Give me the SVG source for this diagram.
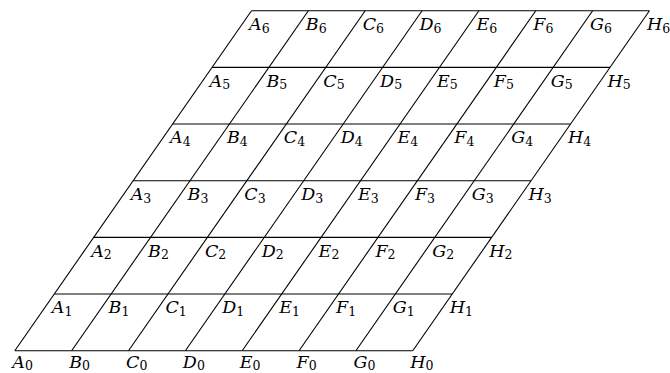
<svg xmlns="http://www.w3.org/2000/svg" width="670" height="373" viewBox="0 0 670 373">
<style>
.g line{stroke:#000;stroke-width:1.1;fill:none}
text{font-family:"DejaVu Serif","Liberation Serif",serif;font-style:italic;font-size:17.5px;fill:#000}
.s{font-style:normal;font-size:12.5px}
</style>
<rect width="670" height="373" fill="#fff"/>
<g id="connectors" class="g">
<line x1="14.8" y1="350.7" x2="412.75" y2="350.7"/>
<line x1="54.25" y1="294.03" x2="452.2" y2="294.03"/>
<line x1="93.7" y1="237.37" x2="491.65" y2="237.37"/>
<line x1="133.15" y1="180.7" x2="531.1" y2="180.7"/>
<line x1="172.6" y1="124.03" x2="570.55" y2="124.03"/>
<line x1="212.05" y1="67.37" x2="610" y2="67.37"/>
<line x1="251.5" y1="10.7" x2="649.45" y2="10.7"/>
<line x1="14.8" y1="350.7" x2="251.5" y2="10.7"/>
<line x1="71.65" y1="350.7" x2="308.35" y2="10.7"/>
<line x1="128.5" y1="350.7" x2="365.2" y2="10.7"/>
<line x1="185.35" y1="350.7" x2="422.05" y2="10.7"/>
<line x1="242.2" y1="350.7" x2="478.9" y2="10.7"/>
<line x1="299.05" y1="350.7" x2="535.75" y2="10.7"/>
<line x1="355.9" y1="350.7" x2="592.6" y2="10.7"/>
<line x1="412.75" y1="350.7" x2="649.45" y2="10.7"/>
</g>
<g id="labels">
<g id="A0"><text x="12.3" y="368.3">A<tspan class="s" dy="1.8">0</tspan></text></g>
<g id="B0"><text x="69.15" y="368.3">B<tspan class="s" dy="1.8">0</tspan></text></g>
<g id="C0"><text x="126" y="368.3">C<tspan class="s" dy="1.8">0</tspan></text></g>
<g id="D0"><text x="182.85" y="368.3">D<tspan class="s" dy="1.8">0</tspan></text></g>
<g id="E0"><text x="239.7" y="368.3">E<tspan class="s" dy="1.8">0</tspan></text></g>
<g id="F0"><text x="296.55" y="368.3">F<tspan class="s" dy="1.8">0</tspan></text></g>
<g id="G0"><text x="353.4" y="368.3">G<tspan class="s" dy="1.8">0</tspan></text></g>
<g id="H0"><text x="410.25" y="368.3">H<tspan class="s" dy="1.8">0</tspan></text></g>
<g id="A1"><text x="51.75" y="313.3">A<tspan class="s" dy="2.5">1</tspan></text></g>
<g id="B1"><text x="108.6" y="313.3">B<tspan class="s" dy="2.5">1</tspan></text></g>
<g id="C1"><text x="165.45" y="313.3">C<tspan class="s" dy="2.5">1</tspan></text></g>
<g id="D1"><text x="222.3" y="313.3">D<tspan class="s" dy="2.5">1</tspan></text></g>
<g id="E1"><text x="279.15" y="313.3">E<tspan class="s" dy="2.5">1</tspan></text></g>
<g id="F1"><text x="336" y="313.3">F<tspan class="s" dy="2.5">1</tspan></text></g>
<g id="G1"><text x="392.85" y="313.3">G<tspan class="s" dy="2.5">1</tspan></text></g>
<g id="H1"><text x="449.7" y="313.3">H<tspan class="s" dy="2.5">1</tspan></text></g>
<g id="A2"><text x="91.2" y="256.7">A<tspan class="s" dy="2.5">2</tspan></text></g>
<g id="B2"><text x="148.05" y="256.7">B<tspan class="s" dy="2.5">2</tspan></text></g>
<g id="C2"><text x="204.9" y="256.7">C<tspan class="s" dy="2.5">2</tspan></text></g>
<g id="D2"><text x="261.75" y="256.7">D<tspan class="s" dy="2.5">2</tspan></text></g>
<g id="E2"><text x="318.6" y="256.7">E<tspan class="s" dy="2.5">2</tspan></text></g>
<g id="F2"><text x="375.45" y="256.7">F<tspan class="s" dy="2.5">2</tspan></text></g>
<g id="G2"><text x="432.3" y="256.7">G<tspan class="s" dy="2.5">2</tspan></text></g>
<g id="H2"><text x="489.15" y="256.7">H<tspan class="s" dy="2.5">2</tspan></text></g>
<g id="A3"><text x="130.65" y="200">A<tspan class="s" dy="2.5">3</tspan></text></g>
<g id="B3"><text x="187.5" y="200">B<tspan class="s" dy="2.5">3</tspan></text></g>
<g id="C3"><text x="244.35" y="200">C<tspan class="s" dy="2.5">3</tspan></text></g>
<g id="D3"><text x="301.2" y="200">D<tspan class="s" dy="2.5">3</tspan></text></g>
<g id="E3"><text x="358.05" y="200">E<tspan class="s" dy="2.5">3</tspan></text></g>
<g id="F3"><text x="414.9" y="200">F<tspan class="s" dy="2.5">3</tspan></text></g>
<g id="G3"><text x="471.75" y="200">G<tspan class="s" dy="2.5">3</tspan></text></g>
<g id="H3"><text x="528.6" y="200">H<tspan class="s" dy="2.5">3</tspan></text></g>
<g id="A4"><text x="170.1" y="143.3">A<tspan class="s" dy="2.5">4</tspan></text></g>
<g id="B4"><text x="226.95" y="143.3">B<tspan class="s" dy="2.5">4</tspan></text></g>
<g id="C4"><text x="283.8" y="143.3">C<tspan class="s" dy="2.5">4</tspan></text></g>
<g id="D4"><text x="340.65" y="143.3">D<tspan class="s" dy="2.5">4</tspan></text></g>
<g id="E4"><text x="397.5" y="143.3">E<tspan class="s" dy="2.5">4</tspan></text></g>
<g id="F4"><text x="454.35" y="143.3">F<tspan class="s" dy="2.5">4</tspan></text></g>
<g id="G4"><text x="511.2" y="143.3">G<tspan class="s" dy="2.5">4</tspan></text></g>
<g id="H4"><text x="568.05" y="143.3">H<tspan class="s" dy="2.5">4</tspan></text></g>
<g id="A5"><text x="209.55" y="86.7">A<tspan class="s" dy="2.5">5</tspan></text></g>
<g id="B5"><text x="266.4" y="86.7">B<tspan class="s" dy="2.5">5</tspan></text></g>
<g id="C5"><text x="323.25" y="86.7">C<tspan class="s" dy="2.5">5</tspan></text></g>
<g id="D5"><text x="380.1" y="86.7">D<tspan class="s" dy="2.5">5</tspan></text></g>
<g id="E5"><text x="436.95" y="86.7">E<tspan class="s" dy="2.5">5</tspan></text></g>
<g id="F5"><text x="493.8" y="86.7">F<tspan class="s" dy="2.5">5</tspan></text></g>
<g id="G5"><text x="550.65" y="86.7">G<tspan class="s" dy="2.5">5</tspan></text></g>
<g id="H5"><text x="607.5" y="86.7">H<tspan class="s" dy="2.5">5</tspan></text></g>
<g id="A6"><text x="249" y="30">A<tspan class="s" dy="2.5">6</tspan></text></g>
<g id="B6"><text x="305.85" y="30">B<tspan class="s" dy="2.5">6</tspan></text></g>
<g id="C6"><text x="362.7" y="30">C<tspan class="s" dy="2.5">6</tspan></text></g>
<g id="D6"><text x="419.55" y="30">D<tspan class="s" dy="2.5">6</tspan></text></g>
<g id="E6"><text x="476.4" y="30">E<tspan class="s" dy="2.5">6</tspan></text></g>
<g id="F6"><text x="533.25" y="30">F<tspan class="s" dy="2.5">6</tspan></text></g>
<g id="G6"><text x="590.1" y="30">G<tspan class="s" dy="2.5">6</tspan></text></g>
<g id="H6"><text x="646.95" y="30">H<tspan class="s" dy="2.5">6</tspan></text></g>
</g>
</svg>
